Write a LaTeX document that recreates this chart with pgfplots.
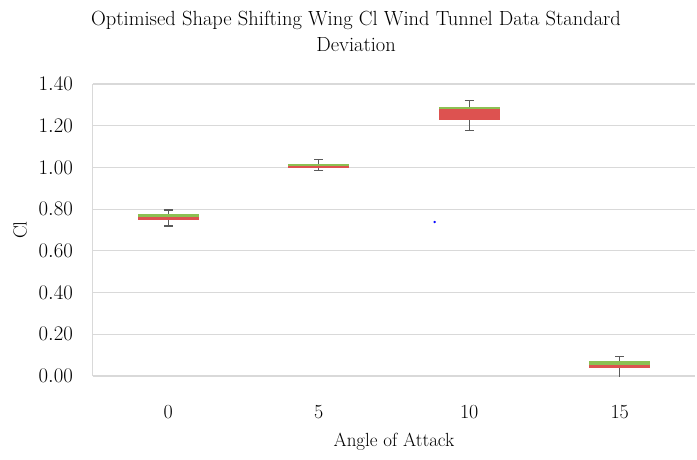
\documentclass[border=0pt]{standalone}
\usepackage{pgfplots}
\pgfplotsset{compat=1.18}
\definecolor{boxred}{RGB}{221,82,80}
\definecolor{boxgreen}{RGB}{140,192,82}
\definecolor{whisk}{RGB}{90,90,90}
\definecolor{gridc}{RGB}{217,217,217}
\begin{document}
\begin{tikzpicture}
\path[use as bounding box] (0,0) rectangle (697pt,459pt);
\begin{axis}[
  at={(93pt,83pt)}, anchor=south west,
  scale only axis, width=602pt, height=292pt,
  xmin=-0.5, xmax=3.5, ymin=0, ymax=1.4,
  xtick={0,1,2,3}, xticklabels={0,5,10,15},
  ytick={0,0.2,0.4,0.6,0.8,1.0,1.2,1.4},
  tick label style={font=\fontsize{20}{22}\selectfont, inner sep=0pt},
  xticklabel style={anchor=center, yshift=-36pt},
  yticklabel style={anchor=east, xshift=-20pt},
  yticklabel style={/pgf/number format/fixed, /pgf/number format/fixed zerofill, /pgf/number format/precision=2},
  axis x line*=bottom, axis y line*=left,
  axis line style={gridc, line width=1pt},
  major tick length=0pt,
  ymajorgrids, grid style={gridc, line width=1.2pt},
  xlabel={Angle of Attack},
  ylabel={Cl},
  label style={font=\fontsize{19}{21}\selectfont},
  xlabel style={at={(axis description cs:0.5,0)}, anchor=center, yshift=-66pt},
  ylabel style={at={(axis description cs:-0.121,0.5)}, anchor=center},
  title={Optimised Shape Shifting Wing Cl Wind Tunnel Data Standard\\Deviation},
  title style={align=center, at={(axis description cs:0.437,1)}, anchor=center, yshift=47pt, font=\fontsize{20.5}{26}\selectfont},
]
% whiskers
\addplot[draw=none, mark=none, forget plot,
  error bars/.cd, y dir=both, y explicit,
  error bar style={draw=whisk, line width=1.4pt},
  error mark options={draw=whisk, line width=1.4pt, mark size=4.6pt, rotate=90}]
  coordinates {
    (0,0.7575) +- (0,0.0385)
    (1,1.0125) +- (0,0.0265)
    (2,1.248)  +- (0,0.072)
    (3,0.0365) +- (0,0.0565)
  };
% red (lower) parts
\addplot[fill=boxred, draw=none, mark=none] coordinates {(-0.2025,0.748)(0.2025,0.748)(0.2025,0.761)(-0.2025,0.761)};
\addplot[fill=boxred, draw=none, mark=none] coordinates {(0.7975,0.997)(1.2025,0.997)(1.2025,1.008)(0.7975,1.008)};
\addplot[fill=boxred, draw=none, mark=none] coordinates {(1.7975,1.227)(2.2025,1.227)(2.2025,1.281)(1.7975,1.281)};
\addplot[fill=boxred, draw=none, mark=none] coordinates {(2.7975,0.038)(3.2025,0.038)(3.2025,0.053)(2.7975,0.053)};
% green (upper) parts
\addplot[fill=boxgreen, draw=none, mark=none] coordinates {(-0.2025,0.761)(0.2025,0.761)(0.2025,0.776)(-0.2025,0.776)};
\addplot[fill=boxgreen, draw=none, mark=none] coordinates {(0.7975,1.008)(1.2025,1.008)(1.2025,1.018)(0.7975,1.018)};
\addplot[fill=boxgreen, draw=none, mark=none] coordinates {(1.7975,1.281)(2.2025,1.281)(2.2025,1.288)(1.7975,1.288)};
\addplot[fill=boxgreen, draw=none, mark=none] coordinates {(2.7975,0.053)(3.2025,0.053)(3.2025,0.073)(2.7975,0.073)};
% stray marker
\addplot[only marks, mark=*, mark size=1pt, blue] coordinates {(1.77,0.738)};
\end{axis}
\end{tikzpicture}
\end{document}
